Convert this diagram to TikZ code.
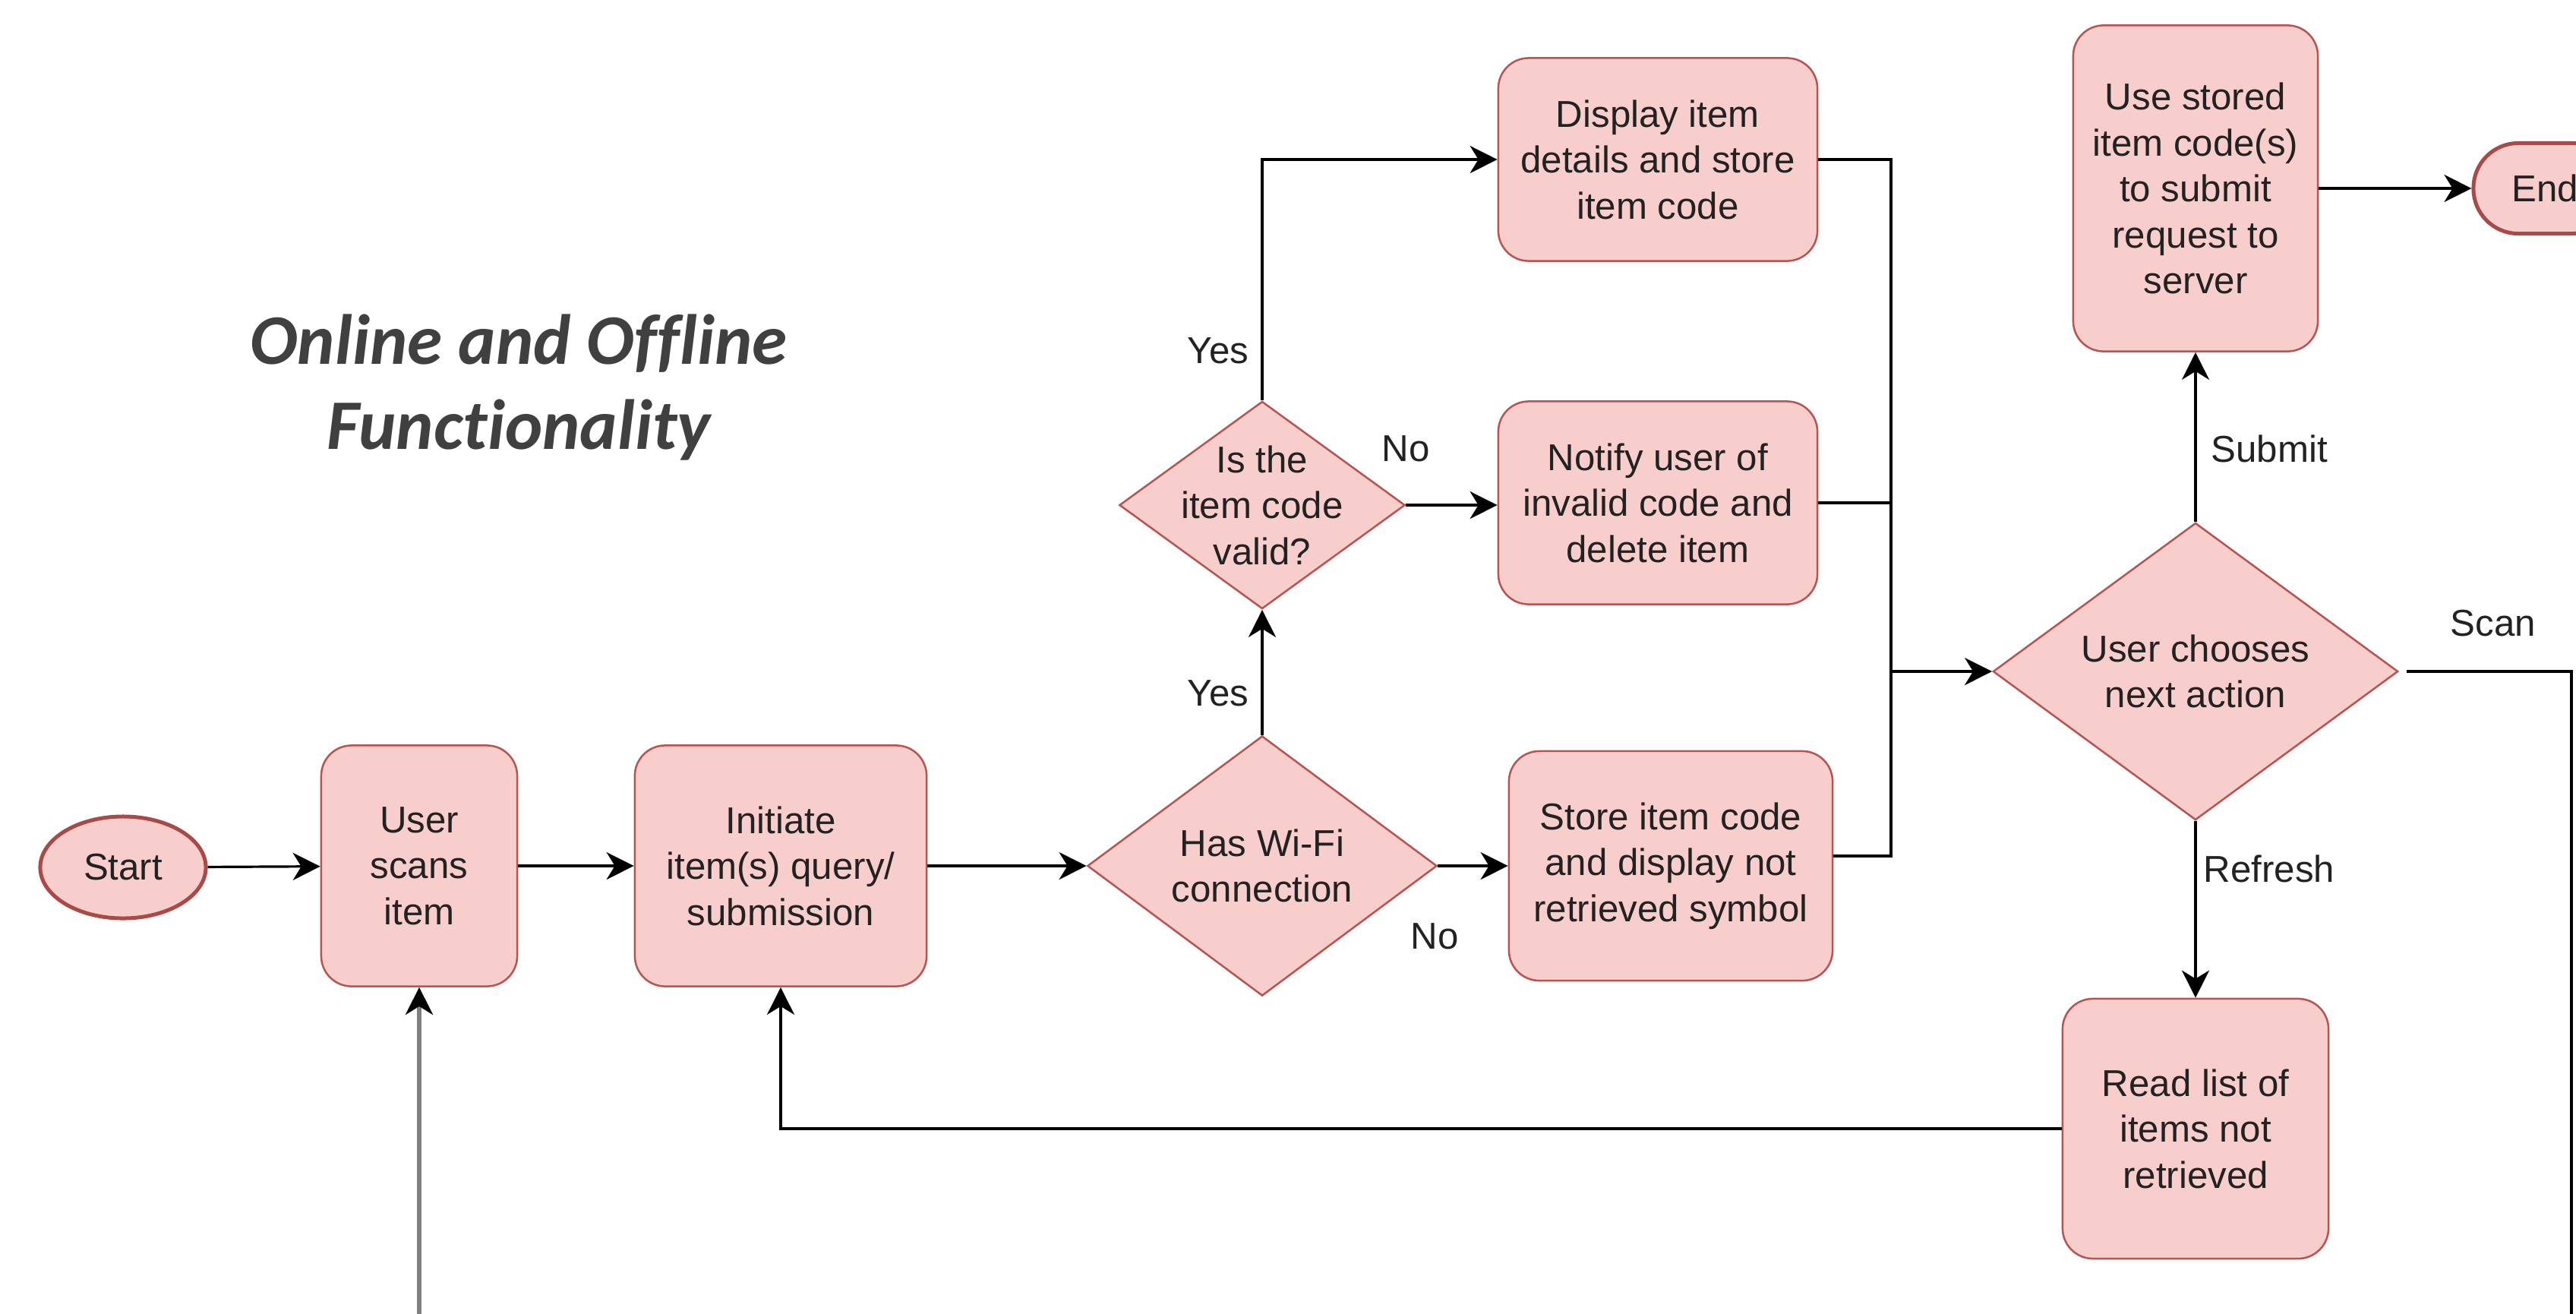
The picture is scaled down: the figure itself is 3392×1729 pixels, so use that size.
\documentclass[tikz,border=0pt]{standalone}
\usepackage{fontspec}
\setmainfont{Liberation Sans}
\newfontfamily\titlefont{Carlito}[Ligatures={NoCommon}]
\usetikzlibrary{shapes.geometric,arrows.meta,calc}
\definecolor{nodefill}{HTML}{F8CECC}
\definecolor{nodedraw}{HTML}{B85450}
\definecolor{termdraw}{HTML}{A94A46}
\definecolor{txtcol}{HTML}{222222}
\definecolor{titlecol}{HTML}{404040}
\definecolor{greyline}{HTML}{808080}
\begin{document}
\begin{tikzpicture}[x=0.01cm,y=-0.01cm,
  every node/.style={font=\fontsize{14}{17.2}\selectfont, text=txtcol},
  box/.style={draw=nodedraw, fill=nodefill, line width=0.025cm, rounded corners=0.4cm, align=center, inner sep=0pt},
  dia/.style={draw=nodedraw, fill=nodefill, line width=0.025cm, diamond, inner sep=0pt},
  term/.style={draw=termdraw, fill=nodefill, line width=0.05cm, align=center, inner sep=0pt},
  txt/.style={align=center, inner sep=0pt},
  lbl/.style={inner sep=0pt},
  tipstyle/.style={-{Stealth[length=0.36cm,width=0.36cm,inset=0.11cm]}},
  conn/.style={draw=black, line width=0.032cm, tipstyle},
  wire/.style={draw=black, line width=0.032cm},
]
\useasboundingbox (0,0) rectangle (3392,1729);
\clip (0,0) rectangle (3392,1729);

% title
\node[font=\titlefont\bfseries\itshape\fontsize{26.6}{31.6}\selectfont, text=titlecol, align=center, inner sep=0pt] (title) at (683,510) {Online and Offline\\Functionality};

% nodes
\node[term, ellipse, minimum width=2.18cm, minimum height=1.34cm] (start) at (162,1142) {Start};
\node[box, minimum width=2.58cm, minimum height=3.17cm] (scan) at (552,1140) {User\\scans\\item};
\node[box, minimum width=3.84cm, minimum height=3.17cm] (init) at (1028,1140) {Initiate\\item(s) query/\\submission};
\node[dia, minimum width=4.60cm, minimum height=3.42cm] (wifi) at (1662,1140) {};
\node[txt] (wifitxt) at (wifi) {Has Wi-Fi\\connection};
\node[box, minimum width=4.26cm, minimum height=3.02cm] (store) at (2200,1140) {Store item code\\and display not\\retrieved symbol};
\node[dia, minimum width=3.76cm, minimum height=2.73cm] (valid) at (1662,665) {};
\node[txt] (validtxt) at (valid) {Is the\\item code\\valid?};
\node[box, minimum width=4.20cm, minimum height=2.67cm] (disp) at (2183,210) {Display item\\details and store\\item code};
\node[box, minimum width=4.20cm, minimum height=2.67cm] (notify) at (2183,662) {Notify user of\\invalid code and\\delete item};
\node[dia, minimum width=5.33cm, minimum height=3.91cm] (choose) at (2891,884) {};
\node[txt] (choosetxt) at (choose) {User chooses\\next action};
\node[box, minimum width=3.22cm, minimum height=4.29cm] (submitbox) at (2891,248) {Use stored\\item code(s)\\to submit\\request to\\server};
\node[term, rounded corners=0.59cm, minimum width=1.88cm, minimum height=1.19cm] (end) at (3351,248) {End};
\node[box, minimum width=3.50cm, minimum height=3.42cm] (read) at (2891,1486) {Read list of\\items not\\retrieved};

% connectors
\draw[conn] (start) -- (scan);
\draw[conn] (scan) -- (init);
\draw[conn] (init) -- (wifi);
\draw[conn] (wifi) -- (store);
\draw[conn] (wifi) -- (valid);
\draw[conn] (valid.north) |- (disp.west);
\draw[conn] (valid.east) -- (valid.east -| notify.west);
\coordinate (J) at (2490,884);
\draw[wire] (disp.east) -| (J);
\draw[wire] (notify.east) -- (notify.east -| J);
\draw[wire] ($(store.east)+(0,-13)$) -| (J);
\draw[conn] (J) -- (choose.west);
\draw[conn] (choose) -- (submitbox);
\draw[conn] (submitbox) -- (end);
\draw[conn] (choose) -- (read);
\draw[conn] (read.west) -| (init.south);
\coordinate (scanend) at (3386,1780);
\draw[wire] ([xshift=0.1cm]choose.east) -| (scanend);
\coordinate (greystart) at (552,1780);
\draw[line width=0.06cm, draw=greyline, -{Stealth[length=0.36cm,width=0.36cm,inset=0.11cm,color=black]}] (greystart) -- (scan);

% labels
\node[lbl] (yes1) at (1604,462) {Yes};
\node[lbl] (yes2) at (1604,913) {Yes};
\node[lbl] (no1) at (1851,591) {No};
\node[lbl] (no2) at (1889,1233) {No};
\node[lbl, anchor=west] (sublbl) at (2911,591) {Submit};
\node[lbl, anchor=west] (reflbl) at (2901,1144) {Refresh};
\node[lbl] (scanlbl) at (3283,821) {Scan};
\end{tikzpicture}
\end{document}
